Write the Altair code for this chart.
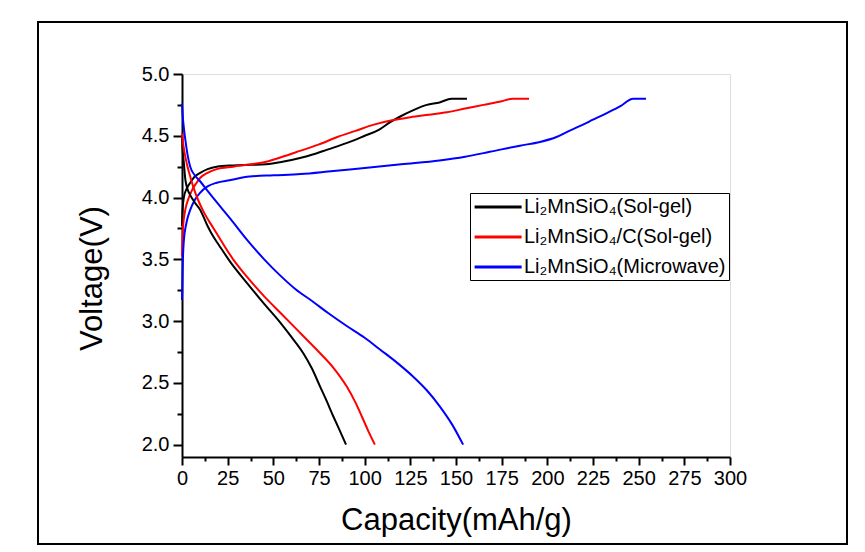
import altair as alt
import pandas as pd

FONT = "Liberation Sans"

samples = ["Li₂MnSiO₄(Sol-gel)", "Li₂MnSiO₄/C(Sol-gel)", "Li₂MnSiO₄(Microwave)"]
colors = ["#000000", "#ff0000", "#0000ff"]

# Charge curves (capacity mAh/g, voltage V)
black_charge_x = [0, 0.3, 1, 2.5, 4.5, 7, 10, 14, 19, 28, 38, 46, 55, 64.6, 72, 80, 90, 100, 108, 114, 120, 127, 134, 141, 147.5, 156]
black_charge_y = [3.77, 3.9, 4.0, 4.07, 4.12, 4.17, 4.2, 4.23, 4.25, 4.26, 4.265, 4.27, 4.29, 4.32, 4.35, 4.39, 4.44, 4.50, 4.55, 4.61, 4.66, 4.71, 4.75, 4.77, 4.80, 4.80]

red_charge_x = [0, 0.5, 1.8, 3.5, 5.5, 8, 10, 14, 19, 28, 38, 46, 55, 65, 75, 85, 95, 105, 115, 125, 135, 145, 155, 165, 175, 181, 190]
red_charge_y = [3.52, 3.75, 3.9, 3.99, 4.06, 4.12, 4.16, 4.2, 4.23, 4.25, 4.27, 4.29, 4.33, 4.38, 4.43, 4.49, 4.54, 4.59, 4.625, 4.65, 4.67, 4.69, 4.72, 4.75, 4.78, 4.80, 4.80]

blue_charge_x = [0, 0.3, 0.9, 2.5, 4.5, 7, 10, 14, 19, 26, 37, 50, 65, 80, 100, 120, 141, 155, 168.5, 185, 196, 205, 212, 218, 225, 232, 240, 247, 254]
blue_charge_y = [3.17, 3.4, 3.63, 3.8, 3.9, 3.98, 4.04, 4.09, 4.12, 4.14, 4.17, 4.18, 4.19, 4.21, 4.24, 4.27, 4.30, 4.33, 4.37, 4.42, 4.45, 4.49, 4.54, 4.58, 4.63, 4.68, 4.74, 4.80, 4.80]

# Discharge curves
black_dis_x = [0, 0.3, 1, 1.8, 3, 4.5, 7, 10, 14, 17.3, 20, 26.4, 35.5, 45, 53.7, 60, 66.4, 71, 75.6, 79, 82.8, 86.5, 89.8]
black_dis_y = [4.5, 4.4, 4.28, 4.15, 4.07, 4.02, 3.96, 3.9, 3.77, 3.68, 3.62, 3.48, 3.31, 3.14, 2.99, 2.87, 2.74, 2.62, 2.47, 2.36, 2.23, 2.11, 2.0]

red_dis_x = [0, 0.5, 1.2, 2.7, 4.5, 6.3, 9.1, 12, 17.3, 22.7, 28, 35.5, 45, 53.7, 65, 75.6, 83, 90.2, 95, 98.4, 102, 105.6]
red_dis_y = [4.52, 4.45, 4.38, 4.27, 4.17, 4.08, 3.97, 3.88, 3.75, 3.62, 3.5, 3.36, 3.2, 3.07, 2.9, 2.74, 2.62, 2.47, 2.34, 2.23, 2.11, 2.0]

blue_dis_x = [0, 0.3, 0.9, 1.8, 3, 4.5, 7, 10, 13.7, 19.1, 26.4, 35.5, 45, 53.7, 62, 71.9, 80, 90.2, 100, 108.4, 118, 126.6, 134, 141.1, 148, 153.9]
blue_dis_y = [4.76, 4.68, 4.58, 4.47, 4.35, 4.25, 4.18, 4.13, 4.06, 3.96, 3.83, 3.66, 3.5, 3.37, 3.26, 3.155, 3.065, 2.96, 2.865, 2.77, 2.66, 2.55, 2.44, 2.31, 2.16, 2.0]

series = [
    (samples[0], "charge", black_charge_x, black_charge_y),
    (samples[1], "charge", red_charge_x, red_charge_y),
    (samples[2], "charge", blue_charge_x, blue_charge_y),
    (samples[0], "discharge", black_dis_x, black_dis_y),
    (samples[1], "discharge", red_dis_x, red_dis_y),
    (samples[2], "discharge", blue_dis_x, blue_dis_y),
]
rows = []
for name, branch, xs, ys in series:
    for i, (x, y) in enumerate(zip(xs, ys)):
        rows.append({"cap": x, "volt": y, "sample": name, "branch": name + branch, "idx": i})
df = pd.DataFrame(rows)

x_ticks = [i * 12.5 for i in range(25)]
y_ticks = [2.0 + i * 0.25 for i in range(13)]

x_axis = alt.Axis(
    values=x_ticks,
    labelExpr="datum.value % 25 == 0 ? datum.label : ''",
    format="d",
    tickSize={"condition": {"test": "datum.value % 25 == 0", "value": 8}, "value": 4},
    tickWidth=2, tickColor="#000", domainWidth=2, domainColor="#000",
    labelFont=FONT, labelFontSize=20, labelColor="#000", labelPadding=3,
    labelOverlap=False, labelFlush=False, grid=False,
    title="Capacity(mAh/g)", titleFont=FONT, titleFontSize=31, titleFontWeight="normal",
    titleColor="#000", titleX=274, titleY=48,
)
y_axis = alt.Axis(
    values=y_ticks,
    labelExpr="abs(datum.value*2 - round(datum.value*2)) < 0.001 ? format(datum.value, '.1f') : ''",
    tickSize={"condition": {"test": "abs(datum.value*2 - round(datum.value*2)) < 0.001", "value": 9}, "value": 5},
    tickWidth=2, tickColor="#000", domainWidth=2, domainColor="#000",
    labelFont=FONT, labelFontSize=20, labelColor="#000", labelPadding=4,
    labelOverlap=False, labelFlush=False, grid=False,
    title="Voltage(V)", titleFont=FONT, titleFontSize=31, titleFontWeight="normal",
    titleColor="#000", titleX=-74, titleY=204,
)

lines = alt.Chart(df).mark_line(strokeWidth=2, clip=False, interpolate="monotone").encode(
    x=alt.X("cap:Q", scale=alt.Scale(domain=[0, 300], nice=False, zero=False), axis=x_axis),
    y=alt.Y("volt:Q", scale=alt.Scale(domain=[1.9, 5.0], nice=False, zero=False), axis=y_axis),
    color=alt.Color(
        "sample:N",
        scale=alt.Scale(domain=samples, range=colors),
        sort=samples,
        legend=alt.Legend(
            title=None, orient="none", legendX=288, legendY=119,
            strokeColor="#000", fillColor="#fff", padding=3,
            symbolType="M-1,0H4", symbolSize=354, symbolStrokeWidth=3,
            labelFont=FONT, labelFontSize=20, labelColor="#000", labelLimit=400,
            labelOffset=29, rowPadding=9,
        ),
    ),
    detail="branch:N",
    order="idx:Q",
)

frame = alt.Chart(pd.DataFrame({"a": [0]})).mark_rect(
    fill=None, stroke="#000", strokeWidth=2, clip=False
).encode(
    x=alt.value(-144), x2=alt.value(665), y=alt.value(-52), y2=alt.value(470)
)

chart = alt.layer(frame, lines).properties(
    width=548, height=383,
    autosize=alt.AutoSizeParams(type="none"),
    padding={"left": 174, "top": 66, "right": 120, "bottom": 90},
).configure_view(stroke=None).configure(background="#ffffff")

chart.save("out.html", embed_options={"renderer": "svg", "actions": False})
